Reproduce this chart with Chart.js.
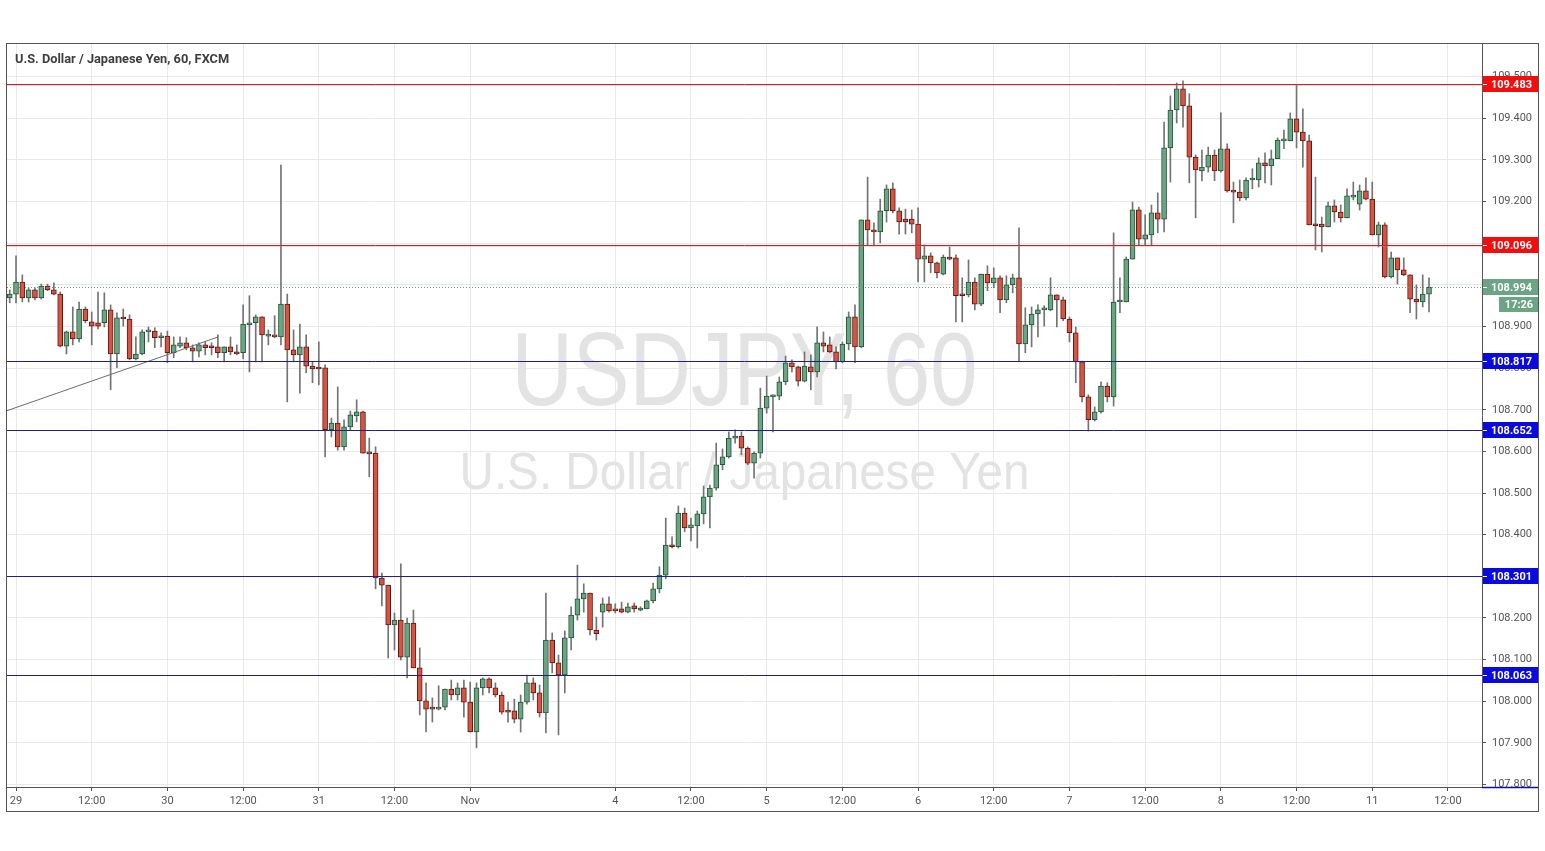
<!DOCTYPE html>
<html>
<head>
<meta charset="utf-8">
<title>USDJPY, 60</title>
<script src="https://cdn.jsdelivr.net/npm/chart.js@4.4.0/dist/chart.umd.min.js"></script>
<style>
  html, body { margin: 0; padding: 0; background: #fff; }
  canvas { display: block; }
</style>
</head>
<body>
<canvas id="chart" width="1545" height="851"></canvas>
<script>
// hourly candles, index 0 = 28 Oct 23:00 ... 225 = 11 Nov 09:00 (weekend hours skipped)
const opens = [
  108.969,108.978,109.007,108.969,108.988,108.969,108.997,108.988,108.978,108.853,
  108.887,108.870,108.942,108.911,108.909,108.909,108.940,108.834,108.921,108.918,
  108.822,108.834,108.887,108.889,108.873,108.877,108.837,108.853,108.861,108.849,
  108.841,108.856,108.851,108.851,108.837,108.851,108.839,108.837,108.904,108.909,
  108.923,108.877,108.880,108.875,108.954,108.844,108.832,108.851,108.805,108.801,
  108.801,108.652,108.668,108.611,108.659,108.685,108.695,108.596,108.596,108.296,
  108.279,108.183,108.195,108.106,108.188,108.080,108.001,107.984,107.981,107.986,
  108.029,108.015,108.032,107.998,107.926,108.032,108.054,108.032,108.015,107.979,
  107.977,107.957,107.998,108.044,108.020,107.972,108.147,108.092,108.063,108.152,
  108.207,108.246,108.260,108.171,108.214,108.234,108.222,108.222,108.214,108.229,
  108.219,108.222,108.241,108.270,108.303,108.375,108.371,108.452,108.416,108.421,
  108.450,108.491,108.512,108.568,108.587,108.632,108.637,108.608,108.572,108.596,
  108.704,108.731,108.733,108.767,108.813,108.803,108.769,108.803,108.791,108.861,
  108.856,108.839,108.815,108.858,108.923,108.851,109.156,109.132,109.127,109.178,
  109.231,109.178,109.158,109.158,109.146,109.062,109.070,109.053,109.026,109.067,
  109.065,108.978,108.976,109.007,108.954,109.026,109.005,109.017,108.964,109.000,
  109.017,108.858,108.904,108.930,108.940,108.940,108.976,108.964,108.918,108.885,
  108.815,108.731,108.676,108.695,108.757,108.731,108.959,108.959,109.062,109.180,
  109.110,109.120,109.173,109.158,109.329,109.420,109.471,109.430,109.307,109.274,
  109.283,109.312,109.274,109.327,109.228,109.223,109.209,109.252,109.252,109.293,
  109.286,109.303,109.346,109.346,109.399,109.367,109.346,109.146,109.146,109.139,
  109.190,109.175,109.161,109.211,109.194,109.226,109.206,109.120,109.144,109.019,
  109.065,109.036,109.024,108.966,108.959,108.978
];
const highs = [
  108.988,109.070,109.024,108.993,108.993,109.002,109.002,109.005,108.983,108.889,
  108.947,108.959,108.947,108.935,108.983,108.981,108.952,108.933,108.942,108.928,
  108.875,108.892,108.899,108.897,108.885,108.889,108.875,108.875,108.873,108.856,
  108.861,108.863,108.861,108.880,108.851,108.875,108.856,108.952,108.974,108.928,
  108.923,108.892,108.926,109.288,108.978,108.892,108.906,108.880,108.815,108.863,
  108.808,108.680,108.755,108.676,108.697,108.724,108.697,108.632,108.611,108.308,
  108.279,108.212,108.330,108.200,108.219,108.128,108.044,108.008,108.037,108.029,
  108.051,108.044,108.051,108.046,108.044,108.056,108.056,108.044,108.022,107.998,
  108.005,108.015,108.063,108.056,108.039,108.260,108.164,108.111,108.169,108.227,
  108.327,108.282,108.260,108.202,108.248,108.251,108.234,108.238,108.236,108.236,
  108.227,108.243,108.284,108.323,108.440,108.395,108.469,108.464,108.440,108.457,
  108.517,108.519,108.620,108.606,108.647,108.652,108.647,108.611,108.599,108.752,
  108.781,108.736,108.779,108.829,108.820,108.805,108.839,108.832,108.899,108.887,
  108.875,108.851,108.863,108.935,108.952,109.156,109.259,109.149,109.206,109.240,
  109.245,109.185,109.182,109.180,109.185,109.096,109.077,109.055,109.072,109.091,
  109.072,109.017,109.060,109.017,109.026,109.046,109.041,109.022,109.022,109.026,
  109.137,108.945,108.947,108.952,108.950,109.017,108.976,108.971,108.923,108.899,
  108.817,108.736,108.707,108.767,108.765,109.125,109.017,109.067,109.199,109.187,
  109.168,109.192,109.221,109.391,109.454,109.485,109.490,109.459,109.312,109.324,
  109.331,109.324,109.413,109.339,109.247,109.252,109.257,109.279,109.305,109.317,
  109.324,109.353,109.372,109.413,109.480,109.423,109.360,109.259,109.163,109.199,
  109.204,109.192,109.231,109.247,109.240,109.257,109.247,109.151,109.149,109.079,
  109.065,109.065,109.024,109.000,109.024,109.017
];
const lows = [
  108.957,108.957,108.959,108.959,108.964,108.966,108.986,108.976,108.851,108.834,
  108.856,108.863,108.909,108.856,108.894,108.899,108.748,108.801,108.901,108.820,
  108.820,108.832,108.863,108.849,108.851,108.813,108.825,108.849,108.844,108.815,
  108.827,108.832,108.832,108.825,108.815,108.832,108.832,108.822,108.791,108.815,
  108.815,108.856,108.873,108.856,108.719,108.815,108.740,108.789,108.765,108.760,
  108.587,108.635,108.603,108.603,108.652,108.671,108.596,108.539,108.270,108.229,
  108.104,108.123,108.099,108.056,108.080,107.967,107.926,107.950,107.979,107.979,
  108.003,108.003,107.962,107.926,107.888,108.015,108.020,108.010,107.969,107.950,
  107.948,107.926,107.993,108.003,107.962,107.924,108.068,107.919,108.020,108.123,
  108.195,108.214,108.159,108.147,108.178,108.214,108.212,108.212,108.212,108.214,
  108.217,108.222,108.236,108.260,108.294,108.368,108.368,108.407,108.385,108.368,
  108.426,108.416,108.507,108.556,108.584,108.620,108.592,108.568,108.536,108.584,
  108.692,108.647,108.724,108.760,108.791,108.757,108.767,108.748,108.779,108.839,
  108.837,108.798,108.813,108.844,108.813,108.849,109.096,109.094,109.101,109.151,
  109.173,109.122,109.122,109.125,109.007,109.007,109.029,109.017,109.024,109.060,
  108.911,108.911,108.971,108.940,108.950,108.986,108.993,108.933,108.957,108.981,
  108.817,108.837,108.851,108.875,108.901,108.938,108.899,108.914,108.863,108.765,
  108.719,108.649,108.673,108.692,108.719,108.709,108.933,108.959,109.062,109.096,
  109.096,109.096,109.125,109.127,109.247,109.389,109.379,109.245,109.161,109.250,
  109.271,109.250,109.271,109.223,109.149,109.202,109.204,109.231,109.235,109.245,
  109.240,109.303,109.327,109.346,109.329,109.283,109.144,109.084,109.079,109.139,
  109.151,109.151,109.161,109.204,109.180,109.204,109.120,109.091,109.017,109.017,
  109.002,109.022,108.933,108.918,108.947,108.935
];
const closes = [
  108.978,109.007,108.969,108.988,108.969,108.997,108.988,108.978,108.853,108.887,
  108.870,108.942,108.914,108.901,108.901,108.940,108.834,108.921,108.918,108.822,
  108.834,108.887,108.889,108.873,108.877,108.837,108.856,108.861,108.849,108.841,
  108.856,108.849,108.849,108.837,108.851,108.839,108.834,108.906,108.909,108.923,
  108.880,108.880,108.875,108.954,108.844,108.832,108.851,108.805,108.798,108.798,
  108.652,108.668,108.611,108.659,108.688,108.695,108.596,108.594,108.296,108.279,
  108.183,108.195,108.106,108.188,108.080,108.001,107.981,107.981,107.986,108.029,
  108.015,108.032,107.998,107.926,108.032,108.054,108.032,108.015,107.974,107.974,
  107.957,107.998,108.044,108.020,107.972,108.147,108.092,108.063,108.152,108.207,
  108.246,108.260,108.171,108.162,108.234,108.217,108.217,108.214,108.227,108.222,
  108.224,108.241,108.270,108.303,108.375,108.371,108.452,108.416,108.424,108.450,
  108.491,108.512,108.568,108.587,108.632,108.637,108.608,108.572,108.596,108.704,
  108.733,108.733,108.767,108.813,108.803,108.769,108.805,108.791,108.861,108.853,
  108.839,108.815,108.858,108.923,108.851,109.156,109.132,109.127,109.178,109.231,
  109.178,109.151,109.151,109.146,109.062,109.070,109.053,109.029,109.067,109.062,
  108.974,108.974,109.007,108.954,109.026,109.005,109.017,108.964,109.000,109.017,
  108.858,108.904,108.930,108.940,108.942,108.976,108.964,108.918,108.885,108.815,
  108.731,108.676,108.695,108.757,108.731,108.959,108.962,109.062,109.180,109.110,
  109.120,109.173,109.158,109.329,109.420,109.471,109.430,109.307,109.276,109.283,
  109.312,109.274,109.327,109.226,109.223,109.209,109.252,109.255,109.293,109.286,
  109.303,109.348,109.348,109.399,109.367,109.346,109.144,109.142,109.139,109.190,
  109.175,109.161,109.214,109.214,109.226,109.206,109.120,109.144,109.019,109.065,
  109.036,109.024,108.966,108.959,108.978,108.994
];

// time axis ticks (candle index -> label)
const tickIndex = [1, 13, 25, 37, 49, 61, 73, 96, 108, 120, 132, 144, 156, 168, 180, 192, 204, 216, 228];
const tickText = ['29', '12:00', '30', '12:00', '31', '12:00', 'Nov', '4', '12:00', '5', '12:00', '6', '12:00', '7', '12:00', '8', '12:00', '11', '12:00'];

// price axis ticks
const priceTicks = [107.8, 107.9, 108.0, 108.1, 108.2, 108.3, 108.4, 108.5, 108.6, 108.7, 108.8, 108.9, 109.0, 109.1, 109.2, 109.3, 109.4, 109.5];

// horizontal levels
const resistanceLevels = [109.483, 109.096];
const supportLevels = [108.817, 108.652, 108.301, 108.063];
const lastPrice = 108.994;
const countdown = '17:26';

// trend line (candle index, price)
const trendX = [-0.6, 33.05];
const trendY = [108.697, 108.875];

const UP = '#6ba583', UP_BORDER = '#225437';
const DOWN = '#d75442', DOWN_BORDER = '#5b1a13';
const WICK = '#737375';
const FONT = 'Roboto, "Liberation Sans", sans-serif';

const isUp = i => closes[i] >= opens[i];

const chartPlugin = {
  id: 'tvDecor',
  beforeDraw(chart) {
    const c = chart.ctx;
    c.save();
    c.fillStyle = '#fff';
    c.fillRect(0, 0, chart.width, chart.height);
    c.restore();
  },
  beforeDatasetsDraw(chart) {
    // watermark
    const c = chart.ctx;
    const a = chart.chartArea;
    const cx = (a.left + a.right) / 2;
    c.save();
    c.fillStyle = '#e3e3e3';
    c.textAlign = 'center';
    c.textBaseline = 'alphabetic';
    c.font = '104px "Liberation Sans", sans-serif';
    let w = c.measureText('USDJPY, 60').width;
    c.translate(cx, 405);
    c.scale(466 / w, 1);
    c.fillText('USDJPY, 60', 0, 0);
    c.restore();
    c.save();
    c.fillStyle = '#e3e3e3';
    c.textAlign = 'center';
    c.font = '52px "Liberation Sans", sans-serif';
    w = c.measureText('U.S. Dollar / Japanese Yen').width;
    c.translate(cx, 489);
    c.scale(570 / w, 1);
    c.fillText('U.S. Dollar / Japanese Yen', 0, 0);
    c.restore();
  },
  afterDatasetsDraw(chart) {
    const c = chart.ctx;
    const a = chart.chartArea;
    const y = chart.scales.y;
    c.save();
    c.beginPath();
    c.rect(a.left, a.top, a.right - a.left, a.bottom - a.top);
    c.clip();
    // last price dotted
    let py = Math.round(y.getPixelForValue(lastPrice)) + 0.5;
    c.strokeStyle = '#5d9b7a';
    c.lineWidth = 1;
    c.setLineDash([1, 2]);
    c.beginPath(); c.moveTo(a.left, py); c.lineTo(a.right, py); c.stroke();
    c.setLineDash([]);
    resistanceLevels.forEach(v => {
      const p = Math.round(y.getPixelForValue(v)) + 0.5;
      c.strokeStyle = 'rgba(255,120,120,0.35)';
      c.beginPath(); c.moveTo(a.left, p + 1); c.lineTo(a.right, p + 1); c.stroke();
      c.strokeStyle = '#c0262b';
      c.beginPath(); c.moveTo(a.left, p); c.lineTo(a.right, p); c.stroke();
    });
    supportLevels.forEach(v => {
      const p = Math.round(y.getPixelForValue(v)) + 0.5;
      c.strokeStyle = '#1e1e96';
      c.beginPath(); c.moveTo(a.left, p); c.lineTo(a.right, p); c.stroke();
    });
    c.restore();
  },
  afterDraw(chart) {
    const c = chart.ctx;
    const a = chart.chartArea;
    const y = chart.scales.y;
    c.save();
    // hide price label below plot
    c.fillStyle = '#fff';
    c.fillRect(a.right + 1, a.bottom + 1, 56, 24);
    c.strokeStyle = '#1010a0';
    c.lineWidth = 1.5;
    c.beginPath(); c.moveTo(a.right, a.bottom + 0.5); c.lineTo(1538, a.bottom + 0.5); c.stroke();

    const box = (v, bg, txt) => {
      const p = Math.round(y.getPixelForValue(v));
      c.fillStyle = bg;
      c.fillRect(a.right + 1, p - 8, 55, 16);
      c.strokeStyle = '#fff';
      c.lineWidth = 1;
      c.beginPath(); c.moveTo(a.right + 1, p + 0.5); c.lineTo(a.right + 5, p + 0.5); c.stroke();
      c.fillStyle = '#fff';
      c.font = 'bold 11px ' + FONT;
      c.textAlign = 'left';
      c.textBaseline = 'middle';
      c.fillText(txt, a.right + 9, p + 1);
      return p;
    };
    resistanceLevels.forEach(v => box(v, '#f50d0d', v.toFixed(3)));
    supportLevels.forEach(v => box(v, '#0a0ae0', v.toFixed(3)));
    const lp = box(lastPrice, '#6ba583', lastPrice.toFixed(3));
    c.fillStyle = '#6ba583';
    c.fillRect(a.right + 17, lp + 10, 39, 15);
    c.fillStyle = '#fff';
    c.font = 'bold 11px ' + FONT;
    c.textAlign = 'center';
    c.fillText(countdown, a.right + 37, lp + 18);

    // title
    c.fillStyle = '#3d3d3d';
    c.font = 'bold 12.8px ' + FONT;
    c.textAlign = 'left';
    c.textBaseline = 'middle';
    c.fillText('U.S. Dollar / Japanese Yen, 60, FXCM', 15, 60);

    // outer frame
    c.strokeStyle = '#555';
    c.lineWidth = 1;
    c.strokeRect(6.5, 43.5, 1532, 768);
    c.restore();
  }
};

new Chart(document.getElementById('chart'), {
  type: 'bar',
  data: {
    datasets: [
      {
        type: 'line',
        label: 'trend',
        data: trendX.map((x, k) => ({ x: x, y: trendY[k] })),
        borderColor: '#6e6e6e',
        borderWidth: 1,
        pointRadius: 0,
        order: 0
      },
      {
        label: 'wick',
        data: highs.map((h, i) => ({ x: i, y: [lows[i], h] })),
        backgroundColor: WICK,
        barThickness: 1,
        grouped: false,
        order: 2
      },
      {
        label: 'body',
        data: opens.map((o, i) => ({ x: i, y: [o, closes[i]] })),
        backgroundColor: ctx => isUp(ctx.dataIndex) ? UP : DOWN,
        borderColor: ctx => isUp(ctx.dataIndex) ? UP_BORDER : DOWN_BORDER,
        borderWidth: 1,
        borderSkipped: false,
        barThickness: 5,
        minBarLength: 2,
        grouped: false,
        order: 1
      }
    ]
  },
  options: {
    responsive: false,
    animation: false,
    events: [],
    layout: { padding: { left: 7, top: 43, right: 7, bottom: 40 } },
    plugins: { legend: { display: false }, tooltip: { enabled: false } },
    scales: {
      x: {
        type: 'linear',
        min: -0.43,
        max: 233.4,
        offset: false,
        grid: { offset: false, color: '#e9e9e9', tickColor: '#555', tickLength: 4 },
        border: { color: '#555' },
        afterBuildTicks: s => { s.ticks = tickIndex.map(v => ({ value: v })); },
        afterFit: s => { s.height = 24; },
        ticks: {
          autoSkip: false,
          maxRotation: 0,
          padding: 4,
          color: '#555',
          font: { family: FONT, size: 11 },
          callback: v => tickText[tickIndex.indexOf(v)]
        }
      },
      y: {
        position: 'right',
        min: 107.794,
        max: 109.581,
        grid: { color: '#e9e9e9', tickColor: '#555', tickLength: 4 },
        border: { color: '#555' },
        afterBuildTicks: s => { s.ticks = priceTicks.map(v => ({ value: v })); },
        afterFit: s => { s.width = 56; },
        ticks: {
          padding: 6,
          color: '#555',
          font: { family: FONT, size: 11 },
          callback: v => Number(v).toFixed(3)
        }
      }
    }
  },
  plugins: [chartPlugin]
});
</script>
</body>
</html>
